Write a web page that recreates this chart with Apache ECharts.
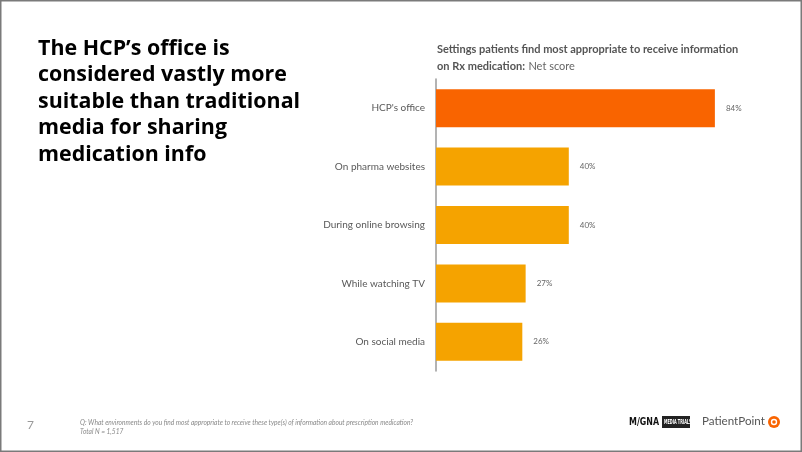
<!DOCTYPE html>
<html><head><meta charset="utf-8">
<script src="https://cdn.jsdelivr.net/npm/echarts@6/dist/echarts.min.js"></script>
<style>html,body{margin:0;padding:0;background:#fff}#c{width:802px;height:452px}</style>
</head><body><div id="c"></div>
<script>
const categories = ["HCP's office","On pharma websites","During online browsing","While watching TV","On social media"];
const values = [84,40,40,27,26];
const barColors = ["#F96400","#F5A300","#F5A300","#F5A300","#F5A300"];
const titleLines = ["The HCP\u2019s office is","considered vastly more","suitable than traditional","media for sharing","medication info"];

const chart = echarts.init(document.getElementById('c'));
const titleGraphics = titleLines.map((t,i)=>({type:'text',x:38,y:38+i*26.6,style:{text:t,font:'bold 21.4px "Open Sans", sans-serif',fill:'#000'}}));
chart.setOption({
  animation:false,
  grid:{left:436,right:34,top:79,bottom:81},
  xAxis:{type:'value',min:0,max:100,show:false},
  yAxis:{type:'category',data:categories,inverse:true,
    axisLine:{show:true,lineStyle:{color:'#9a9a9a',width:1.5}},
    axisTick:{show:false},
    axisLabel:{margin:11,fontSize:10,color:'#595959',fontFamily:'Lato, sans-serif'}},
  series:[{type:'bar',barWidth:38,
    data:values.map((v,i)=>({value:v,itemStyle:{color:barColors[i]}})),
    label:{show:true,position:'right',distance:11,formatter:'{c}%',fontSize:8,color:'#666',fontFamily:'Lato, sans-serif'}}],
  graphic:[
    {type:'rect',x:0,y:0,shape:{x:0.75,y:0.75,width:800.5,height:450.5},style:{fill:'none',stroke:'#7a7a7a',lineWidth:1.5},silent:true},
    ...titleGraphics,
    {type:'text',x:437,y:44,style:{text:'Settings patients find most appropriate to receive information',font:'bold 11px Lato, sans-serif',fill:'#555'}},
    {type:'text',x:437,y:60,style:{rich:{b:{font:'bold 11px Lato, sans-serif',fill:'#555'},n:{font:'11px Lato, sans-serif',fill:'#666'}},text:'{b|on Rx medication:} {n|Net score}'}},
    {type:'text',x:27,y:419,style:{text:'7',font:'12px Lato, sans-serif',fill:'#999'}},
    {type:'text',x:80,y:419,style:{text:'Q: What environments do you find most appropriate to receive these type(s) of information about prescription medication?',font:'italic 6.6px Lato, sans-serif',fill:'#888'}},
    {type:'text',x:80,y:428,style:{text:'Total N = 1,517',font:'italic 6.6px Lato, sans-serif',fill:'#888'}},
    {type:'text',x:629,y:417,scaleX:0.72,style:{text:'M/GNA',font:'bold 11px "DejaVu Sans", sans-serif',fill:'#111'}},
    {type:'rect',x:662,y:416,shape:{width:28,height:12},style:{fill:'#222'}},
    {type:'text',x:664,y:419,scaleX:0.55,style:{text:'MEDIA TRIALS',font:'bold 7px "DejaVu Sans Condensed", sans-serif',fill:'#fff'}},
    {type:'text',x:702,y:415.5,style:{text:'PatientPoint',font:'11.6px Lato, sans-serif',fill:'#555'}},
    {type:'circle',x:774,y:422,shape:{r:6},style:{fill:'#F96400'}},
    {type:'circle',x:774,y:422,shape:{r:3.2},style:{fill:'#fff'}},
    {type:'circle',x:774,y:422,shape:{r:1.8},style:{fill:'#F96400'}}
  ]
});
</script></body></html>
